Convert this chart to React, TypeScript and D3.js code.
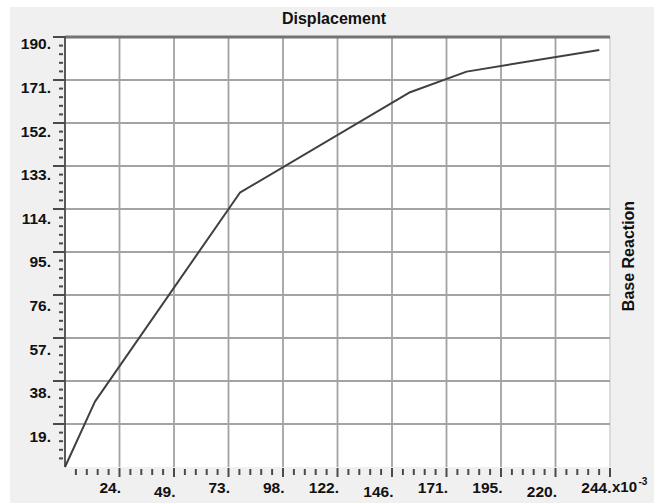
import React from "react";
import * as d3 from "d3";

// pushover curve: displacement (x10^-3) vs base reaction
const dispX = [0, 13.4, 78.3, 154.5, 179.8, 239.2];
const baseY = [0, 28.9, 121.2, 165.6, 174.7, 184.3];

const xTickLabels = ["24.", "49.", "73.", "98.", "122.", "146.", "171.", "195.", "220.", "244."];
const xStep = 24.4;
const yTickLabels = ["19.", "38.", "57.", "76.", "95.", "114.", "133.", "152.", "171.", "190."];
const yStep = 19;

// a few x labels sit lower than the others in the original
const xLabelDrop = [0, 4, 0, 0, 0, 4, 0, 0, 4, 0];

const W = 657;
const H = 503;
const FONT = "'Liberation Sans', Arial, sans-serif";

export default function App() {
  const left = 65, right = 610, top = 37, bottom = 467;

  const x = d3.scaleLinear().domain([0, xStep * 10]).range([left, right]);
  const y = d3.scaleLinear().domain([0, yStep * 10]).range([bottom, top]);
  // label baselines are spaced a little wider than the grid
  const yLab = d3.scaleLinear().domain([yStep, yStep * 10]).range([441.7, 49.3]);

  const xMajor = d3.range(1, 11).map(i => i * xStep);
  const xMinor = d3.range(1, 51).filter(i => i % 5 !== 0).map(i => (i * xStep) / 5);
  const yMajor = d3.range(1, 11).map(i => i * yStep);
  const yMinor = d3.range(1, 51).filter(i => i % 5 !== 0).map(i => (i * yStep) / 5);

  const pts: [number, number][] = dispX.map((d, i) => [d, baseY[i]]);
  const line = d3.line<[number, number]>().x(d => x(d[0])).y(d => y(d[1]));

  return (
    <svg width={W} height={H} style={{ position: "absolute", left: 0, top: 0 }} fontFamily={FONT}>
      <rect x={0} y={0} width={W} height={H} fill="#ffffff" />
      <rect x={10} y={7} width={644} height={H - 7} fill="#f0f0f0" />
      <rect x={left} y={top} width={right - left} height={bottom - top} fill="#ffffff" />

      {/* grid */}
      {xMajor.map((v, i) => (
        <line key={"gx" + i} x1={x(v)} x2={x(v)} y1={top} y2={bottom}
          stroke={i === 9 ? "#d8d8d8" : "#a3a3a3"} strokeWidth={1.8} />
      ))}
      {yMajor.slice(0, 9).map((v, i) => (
        <line key={"gy" + i} x1={left} x2={right} y1={y(v)} y2={y(v)} stroke="#a3a3a3" strokeWidth={1.8} />
      ))}
      <line x1={left} x2={right} y1={top} y2={top} stroke="#737373" strokeWidth={3.2} />

      {/* y axis */}
      <line x1={left} x2={left} y1={top - 1} y2={bottom} stroke="#5a5a5a" strokeWidth={2} />
      {yMajor.map((v, i) => (
        <line key={"ty" + i} x1={53} x2={left} y1={y(v)} y2={y(v)} stroke="#4a4a4a" strokeWidth={2} />
      ))}
      {yMinor.map((v, i) => (
        <line key={"ty2" + i} x1={59} x2={63} y1={y(v)} y2={y(v)} stroke="#4a4a4a" strokeWidth={2} />
      ))}
      {yMajor.map((v, i) => (
        <text key={"ly" + i} x={51} y={yLab(v)} textAnchor="end" fontSize={15.5} fontWeight="bold" fill="#111">
          {yTickLabels[i]}
        </text>
      ))}

      {/* x axis */}
      {xMajor.map((v, i) => (
        <line key={"tx" + i} x1={x(v)} x2={x(v)} y1={468} y2={477} stroke="#4a4a4a" strokeWidth={2} />
      ))}
      {xMinor.map((v, i) => (
        <line key={"tx2" + i} x1={x(v)} x2={x(v)} y1={469} y2={475} stroke="#4a4a4a" strokeWidth={2} />
      ))}
      {xMajor.map((v, i) => (
        <text key={"lx" + i} x={x(v) + 1.5} y={492.5 + xLabelDrop[i]} textAnchor="end" fontSize={15.5} fontWeight="bold" fill="#111">
          {xTickLabels[i]}
        </text>
      ))}
      <text x={612} y={492} fontSize={15} fontWeight="bold" fill="#111">x10</text>
      <text x={638.5} y={485} fontSize={10} fontWeight="bold" fill="#111">-3</text>

      {/* curve */}
      <path d={line(pts) || ""} fill="none" stroke="#404040" strokeWidth={2} strokeLinejoin="round" />

      {/* titles */}
      <text x={334} y={24} textAnchor="middle" fontSize={16} fontWeight="bold" fill="#111">Displacement</text>
      <text transform="translate(634,256) rotate(-90)" textAnchor="middle" fontSize={16} fontWeight="bold" fill="#111">
        Base Reaction
      </text>
    </svg>
  );
}
